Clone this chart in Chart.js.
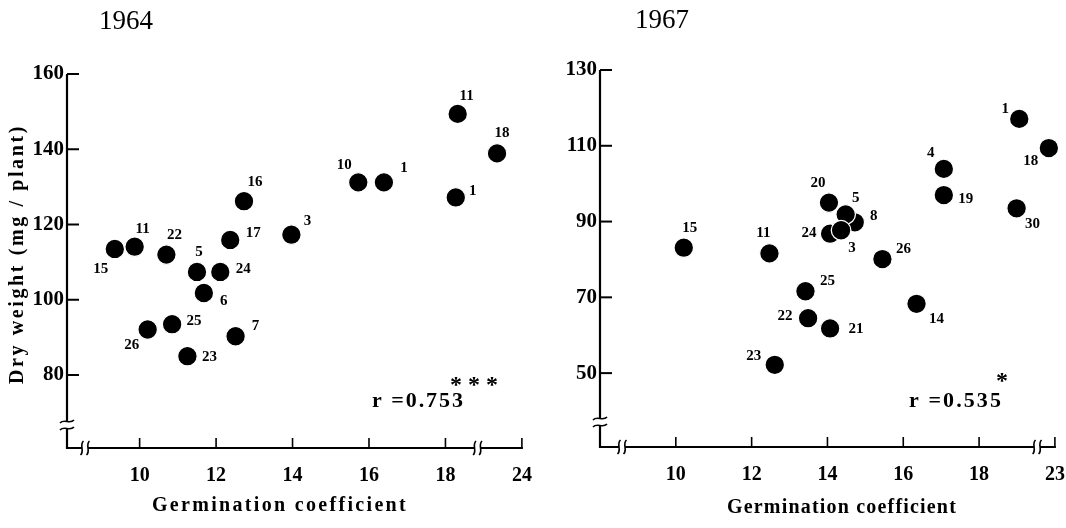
<!DOCTYPE html>
<html><head><meta charset="utf-8">
<script src="https://cdn.jsdelivr.net/npm/chart.js@4"></script>
<style>
html,body{margin:0;padding:0;background:#fff;}
#wrap{position:relative;width:1066px;height:528px;background:#fff;}
canvas{position:absolute;top:0;}
#c1{left:0;} #c2{left:533px;}
</style></head><body>
<div id="wrap"><canvas id="c1" width="533" height="528"></canvas><canvas id="c2" width="533" height="528"></canvas></div>
<script>
// ---------- data ----------
const xTicks = [10, 12, 14, 16, 18, 20];
const xTickLabels1964 = ['10', '12', '14', '16', '18', '24'];
const xTickLabels1967 = ['10', '12', '14', '16', '18', '23'];
const yTicks1964 = [80, 100, 120, 140, 160];
const yTicks1967 = [50, 70, 90, 110, 130];

const cultivars1964 = ['15','11','22','5','24','6','17','16','3','10','1','11','1','18','26','25','23','7'];
const germ1964      = [9.35, 9.87, 10.70, 11.50, 12.11, 11.68, 12.37, 12.73, 13.97, 15.72, 16.39, 18.32, 18.27, 19.35, 10.21, 10.85, 11.25, 12.51];
const dry1964       = [113.5, 114.1, 112.0, 107.4, 107.4, 101.8, 115.9, 126.2, 117.3, 131.2, 131.2, 149.4, 127.2, 138.9, 92.1, 93.5, 85.0, 90.3];

const cultivars1967 = ['15','11','20','8','24','5','3','26','25','22','21','23','14','4','19','1','18','30'];
const germ1967      = [10.21, 12.47, 14.04, 14.72, 14.07, 14.48, 14.36, 15.45, 13.42, 13.49, 14.07, 12.61, 16.35, 17.07, 17.07, 19.06, 19.84, 18.99];
const dry1967       = [83.1, 81.6, 95.0, 89.8, 86.8, 91.9, 87.7, 80.1, 71.6, 64.5, 61.8, 52.2, 68.3, 103.9, 97.0, 117.1, 109.4, 93.5];

const rText1964 = 'r =0.753', sig1964 = '* * *';
const rText1967 = 'r =0.535', sig1967 = '*';

// ---------- label placement (pixel offsets from each point) ----------
const labelOffsets1964 = [[-14,20],[8,-18],[8,-19],[2,-20],[23,-3],[20,8],[23,-7],[11,-19],[16,-14],[-14,-17],[20,-14],[9,-18],[17,-6],[5,-20],[-16,16],[22,-3],[22,1],[20,-10]];
const labelOffsets1967 = [[6,-20],[-6,-20],[-11,-19],[19,-6],[-21,-1],[10,-16],[11,18],[21,-10],[22,-10],[-23,-2],[26,1],[-21,-9],[20,15],[-13,-16],[22,4],[-14,-10],[-18,13],[16,16]];

const SERIF = '"Liberation Serif", "DejaVu Serif", serif';

function fitText(ctx, text, x, y, width, font){
  ctx.font = font;
  ctx.letterSpacing = '0px';
  const nat = ctx.measureText(text).width;
  const sp = Math.max(0, (width - nat) / text.length);
  ctx.letterSpacing = sp + 'px';
  ctx.textAlign = 'left';
  ctx.fillText(text, x, y);
  ctx.letterSpacing = '0px';
}

const decoPlugin = {
  id: 'deco',
  afterDraw(chart, args, o){
    const ctx = chart.ctx;
    const {left, right, top, bottom} = chart.chartArea;
    const xs = chart.scales.x, ys = chart.scales.y;
    ctx.save();
    ctx.strokeStyle = '#000'; ctx.fillStyle = '#000';
    const line = (a,b,c,d,w) => { ctx.lineWidth = w; ctx.beginPath(); ctx.moveTo(a,b); ctx.lineTo(c,d); ctx.stroke(); };
    // y axis with break
    const yb = bottom - o.yBreak, g = 4;
    line(left, top, left, yb - g, 2.2);
    line(left, yb + g, left, bottom + 1, 2.2);
    ctx.lineWidth = 1.6;
    [yb - g + 0.5, yb + g - 0.5].forEach(yy => {
      ctx.beginPath(); ctx.moveTo(left - 7, yy + 1.5);
      ctx.bezierCurveTo(left - 3, yy - 3, left + 3, yy + 3, left + 7, yy - 1.5); ctx.stroke();
    });
    // x axis with breaks
    const bL = left + o.xBreakL, bR = xs.getPixelForValue(o.xBreakR);
    line(left - 1, bottom, bL - 3, bottom, 2);
    line(bL + 3, bottom, bR - 3, bottom, 2);
    line(bR + 3, bottom, right + 1, bottom, 2);
    ctx.lineWidth = 1.6;
    [bL - 3, bL + 3, bR - 3, bR + 3].forEach(xx => {
      ctx.beginPath(); ctx.moveTo(xx + 1.5, bottom - 7);
      ctx.bezierCurveTo(xx - 3, bottom - 3, xx + 3, bottom + 3, xx - 1.5, bottom + 7); ctx.stroke();
    });
    // inward ticks
    o.yTicks.forEach(v => { const p = ys.getPixelForValue(v); line(left, p, left + 12, p, 2); });
    o.xTicks.forEach(v => { const p = xs.getPixelForValue(v); line(p, bottom, p, bottom - 10, 1.6); });

    // point labels
    const meta = chart.getDatasetMeta(0);
    ctx.font = 'bold 15px ' + SERIF; ctx.textAlign = 'center'; ctx.textBaseline = 'middle';
    meta.data.forEach((pt, i) => {
      const [dx, dy] = o.offsets[i];
      ctx.fillText(o.names[i], pt.x + dx, pt.y + dy);
    });

    // titles
    ctx.textBaseline = 'middle';
    ctx.font = '27px ' + SERIF; ctx.textAlign = 'center';
    ctx.fillText(o.year, o.yearPos[0], o.yearPos[1]);
    fitText(ctx, 'Germination coefficient', o.xTitle[0], o.xTitle[1], o.xTitle[2], 'bold 20px ' + SERIF);
    if (o.yTitle){
      ctx.save(); ctx.translate(o.yTitle[0], o.yTitle[1]); ctx.rotate(-Math.PI/2);
      fitText(ctx, 'Dry weight (mg / plant)', -o.yTitle[2]/2, 0, o.yTitle[2], 'bold 20px ' + SERIF);
      ctx.restore();
    }
    fitText(ctx, o.r[0], o.r[1], o.r[2], o.r[3], 'bold 22px ' + SERIF);
    ctx.font = 'bold 24px ' + SERIF; ctx.textAlign = 'left';
    ctx.letterSpacing = o.sig[3] + 'px';
    ctx.fillText(o.sig[0], o.sig[1], o.sig[2]);
    ctx.letterSpacing = '0px';
    ctx.restore();
  }
};

function makeChart(id, cfg){
  const pts = cfg.gx.map((x, i) => ({x: x, y: cfg.dy[i]}));
  return new Chart(document.getElementById(id), {
    type: 'scatter',
    data: { datasets: [{ data: pts, backgroundColor: '#000', borderColor: '#fff', borderWidth: 1.3, pointRadius: 9.8, pointHoverRadius: 9.8, clip: false }] },
    options: {
      responsive: false, animation: false, events: [],
      layout: { padding: { top: cfg.top, right: cfg.right, left: 0, bottom: 0 } },
      plugins: { legend: {display: false}, tooltip: {enabled: false}, deco: cfg.deco },
      scales: {
        x: {
          type: 'linear', min: cfg.xmin, max: cfg.xmax,
          afterBuildTicks: s => { s.ticks = xTicks.map(v => ({value: v})); },
          afterFit: s => { s.height = cfg.xh; s.paddingLeft = 0; s.paddingRight = 0; },
          ticks: { callback: (v, i) => cfg.xLabels[i], font: {family: SERIF, size: 20, weight: 'bold'}, color: '#000', padding: 16, maxRotation: 0, autoSkip: false },
          grid: { display: false, drawTicks: false }, border: { display: false }
        },
        y: {
          type: 'linear', min: cfg.ymin, max: cfg.ymax,
          afterBuildTicks: s => { s.ticks = cfg.yTicks.map(v => ({value: v})); },
          afterFit: s => { s.width = 67; s.paddingTop = 0; s.paddingBottom = 0; },
          ticks: { font: {family: SERIF, size: 21, weight: 'bold'}, color: '#000', padding: 3, autoSkip: false },
          grid: { display: false, drawTicks: false }, border: { display: false }
        }
      }
    },
    plugins: [decoPlugin]
  });
}

makeChart('c1', {
  gx: germ1964, dy: dry1964, xmin: 8.1, xmax: 20, ymin: 60.6, ymax: 160,
  xLabels: xTickLabels1964, yTicks: yTicks1964, top: 74, right: 10, xh: 80,
  deco: { yBreak: 23, xBreakL: 18, xBreakR: 18.84, yTicks: yTicks1964, xTicks: xTicks,
          offsets: labelOffsets1964, names: cultivars1964, year: '1964', yearPos: [126, 22],
          xTitle: [152, 506, 256], yTitle: [18, 254, 260],
          r: [rText1964, 372, 401, 93], sig: [sig1964, 450, 386, 0] }
});
makeChart('c2', {
  gx: germ1967, dy: dry1967, xmin: 8, xmax: 20, ymin: 30.5, ymax: 130,
  xLabels: xTickLabels1967, yTicks: yTicks1967, top: 70, right: 8, xh: 81,
  deco: { yBreak: 25, xBreakL: 22, xBreakR: 19.53, yTicks: yTicks1967, xTicks: xTicks,
          offsets: labelOffsets1967, names: cultivars1967, year: '1967', yearPos: [129, 21],
          xTitle: [194, 508, 230], yTitle: null,
          r: [rText1967, 376, 401, 94], sig: [sig1967, 463, 382, 0] }
});
</script>
</body></html>
